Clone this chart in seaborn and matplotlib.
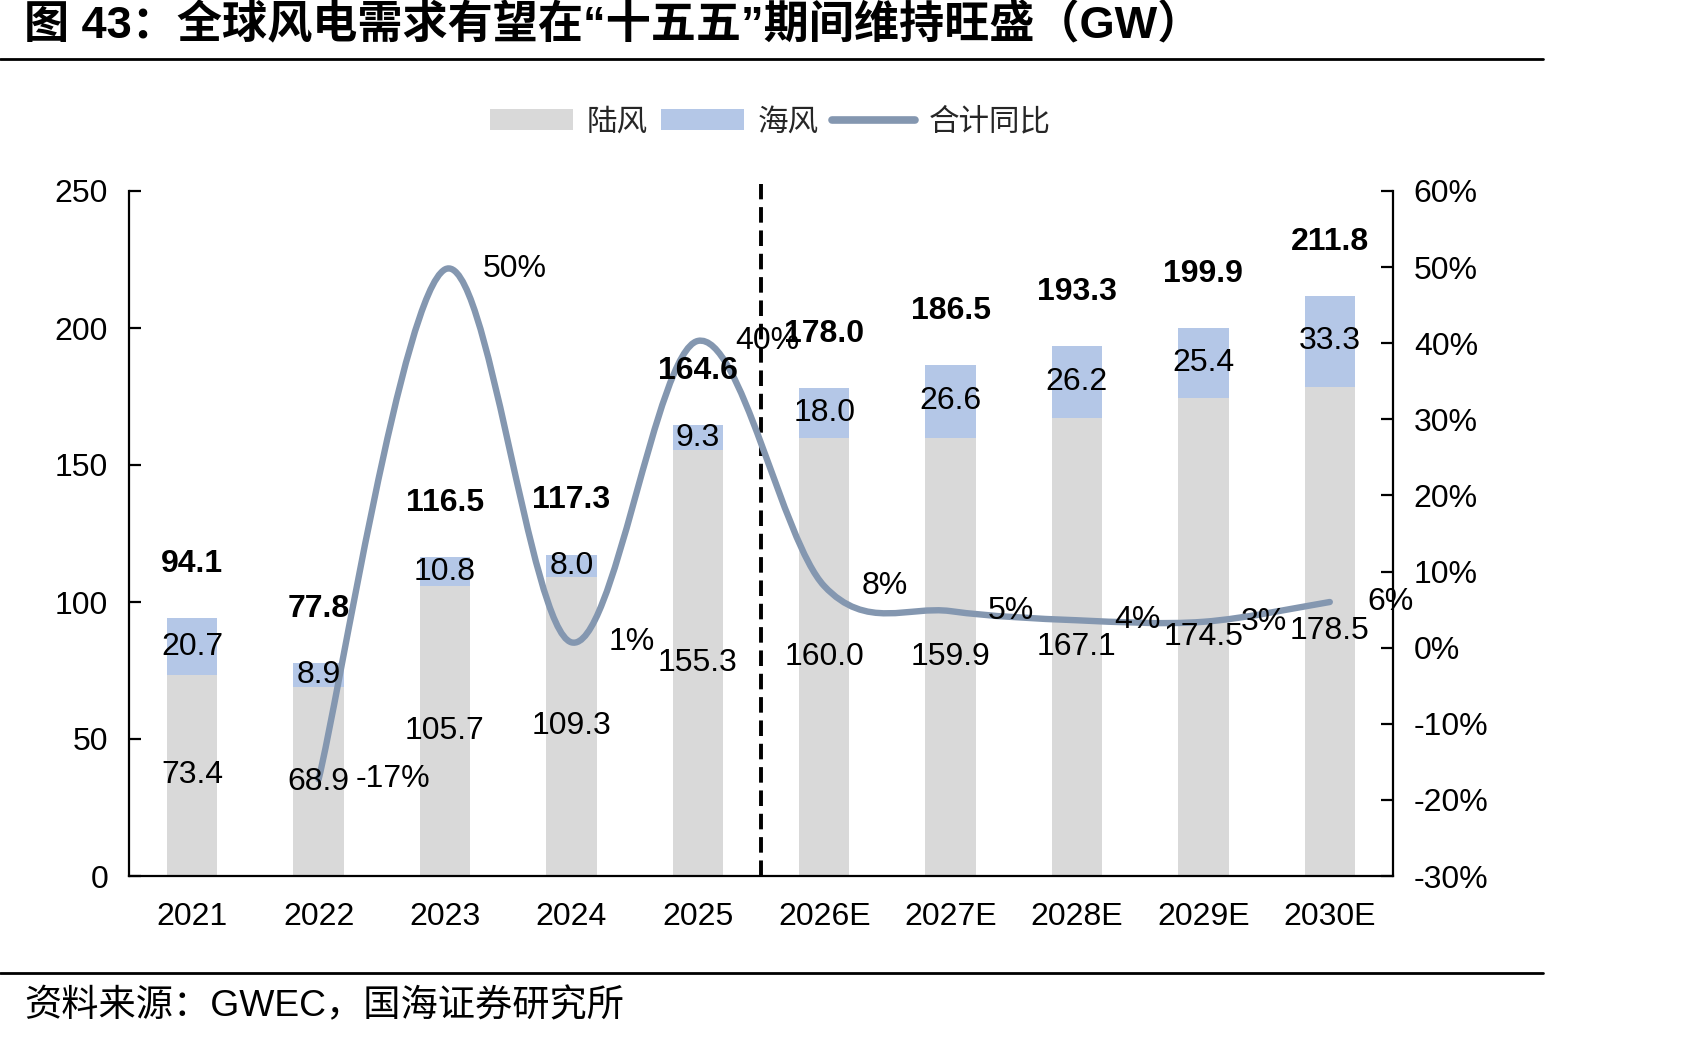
import numpy as np
import pandas as pd
import matplotlib
matplotlib.use("Agg")
import matplotlib.pyplot as plt
import seaborn as sns
from matplotlib.path import Path
from matplotlib.patches import PathPatch, Patch
from matplotlib.lines import Line2D

# ---------------- data ----------------
years = ["2021", "2022", "2023", "2024", "2025", "2026E", "2027E", "2028E", "2029E", "2030E"]
onshore = [73.4, 68.9, 105.7, 109.3, 155.3, 160.0, 159.9, 167.1, 174.5, 178.5]
offshore = [20.7, 8.9, 10.8, 8.0, 9.3, 18.0, 26.6, 26.2, 25.4, 33.3]
total = [94.1, 77.8, 116.5, 117.3, 164.6, 178.0, 186.5, 193.3, 199.9, 211.8]
yoy = [None, -17.3, 49.7, 0.7, 40.3, 8.1, 4.8, 3.6, 3.4, 6.0]
yoy_labels = ["", "-17%", "50%", "1%", "40%", "8%", "5%", "4%", "3%", "6%"]
left_ticks = [0, 50, 100, 150, 200, 250]
right_ticks = [-30, -20, -10, 0, 10, 20, 30, 40, 50, 60]
legend_labels = ["陆风", "海风", "合计同比"]
title = "图 43：全球风电需求有望在“十五五”期间维持旺盛（GW）"
source = "资料来源：GWEC，国海证券研究所"

GRAY = "#D9D9D9"
BLUE = "#B4C7E7"
LINE = "#8497B0"

sns.set_theme(style="white")
plt.rcParams["font.family"] = ["Liberation Sans", "Noto Sans CJK SC"]

fig = plt.figure(figsize=(16.89, 10.39), dpi=100)
ax = fig.add_axes([129 / 1689, 1 - 876 / 1039, (1393 - 129) / 1689, (876 - 191) / 1039])

df = pd.DataFrame({"year": years, "onshore": onshore, "offshore": offshore, "total": total})
df["stack"] = df["onshore"] + df["offshore"]

sns.barplot(data=df, x="year", y="stack", order=years, color=BLUE, width=0.4,
            saturation=1, linewidth=0, ax=ax, zorder=1)
sns.barplot(data=df, x="year", y="onshore", order=years, color=GRAY, width=0.4,
            saturation=1, linewidth=0, ax=ax, zorder=2)

ax.set_xlim(-0.5, len(years) - 0.5)
ax.set_ylim(0, 250)
ax.set_yticks(left_ticks)
ax.set_yticklabels([str(t) for t in left_ticks])
ax.set_xlabel("")
ax.set_ylabel("")
ax.set_xticks(range(len(years)))
ax.set_xticklabels(years)
ax.set_xticks(np.arange(0.5, len(years) - 1, 1.0), minor=True)
ax.tick_params(axis="x", which="major", length=0, pad=19, labelsize=23, colors="black")
ax.tick_params(axis="x", which="minor", direction="in", length=8.6, width=1.6, color="black")
ax.tick_params(axis="y", direction="in", length=8.6, width=1.6, pad=15, labelsize=23,
               colors="black", left=True)
for s in ["top", "right"]:
    ax.spines[s].set_visible(False)
for s in ["left", "bottom"]:
    ax.spines[s].set_color("black")
    ax.spines[s].set_linewidth(1.6)

# dashed separator between actual and forecast
ax.axvline(4.5, ymin=0, ymax=1.01, color="black", lw=2.8, ls=(0, (4.0, 2.0)),
           clip_on=False, zorder=4)

# right axis with YoY line
ax2 = ax.twinx()
ax2.set_ylim(-30, 60)
ax2.set_yticks(right_ticks)
ax2.set_yticklabels([f"{t}%" for t in right_ticks])
ax2.tick_params(axis="y", direction="in", length=8.6, width=1.6, pad=15, labelsize=23,
                colors="black", right=True)
ax2.grid(False)
ax.grid(False)
for s in ["top", "left", "bottom"]:
    ax2.spines[s].set_visible(False)
ax2.spines["right"].set_color("black")
ax2.spines["right"].set_linewidth(1.6)

# smoothed line (Bezier through the data points, Excel-style smoothing)
xs = [i for i, v in enumerate(yoy) if v is not None]
ys = [v for v in yoy if v is not None]
pts = np.column_stack([xs, ys]).astype(float)
n = len(pts)
verts = [pts[0]]
codes = [Path.MOVETO]
for i in range(n - 1):
    p0 = pts[i - 1] if i > 0 else pts[i]
    p1 = pts[i]
    p2 = pts[i + 1]
    p3 = pts[i + 2] if i + 2 < n else pts[i + 1]
    c1 = p1 + (p2 - p0) / 6.0
    c2 = p2 - (p3 - p1) / 6.0
    verts += [c1, c2, p2]
    codes += [Path.CURVE4] * 3
ax2.add_patch(PathPatch(Path(verts, codes), fill=False, edgecolor=LINE, lw=4.6,
                        capstyle="round", joinstyle="round", zorder=3))

# labels
for i in range(len(years)):
    ax2.annotate(f"{onshore[i]:.1f}", xy=(i, onshore[i] / 2), xycoords=ax.transData,
                 ha="center", va="center", fontsize=23, color="black", zorder=6)
    ax2.annotate(f"{offshore[i]:.1f}", xy=(i, onshore[i] + offshore[i] / 2),
                 xycoords=ax.transData, ha="center", va="center", fontsize=23,
                 color="black", zorder=6)
    ax2.annotate(f"{total[i]:.1f}", xy=(i, total[i]), xycoords=ax.transData,
                 xytext=(0, 39), textcoords="offset points", ha="center", va="center",
                 fontsize=23, fontweight="bold", color="black", zorder=6)
    if yoy[i] is not None:
        ax2.annotate(yoy_labels[i], xy=(i, yoy[i]), xycoords=ax2.transData,
                     xytext=(27, 0), textcoords="offset points", ha="left", va="center",
                     fontsize=23, color="black", zorder=6)

# legend
handles = [Patch(facecolor=GRAY, edgecolor="none"),
           Patch(facecolor=BLUE, edgecolor="none"),
           Line2D([0], [0], color=LINE, lw=5.5, solid_capstyle="round")]
fig.legend(handles, legend_labels, loc="center", bbox_to_anchor=(0.456, 0.8826), ncol=3,
           frameon=False, prop={"family": ["Noto Sans CJK SC"], "size": 22},
           handlelength=2.7, handleheight=0.7, handletextpad=0.45, columnspacing=0.45)

# title, rules and source
fig.text(24 / 1689, 1 - 26 / 1039, title, ha="left", va="center", fontsize=32.5,
         fontweight="bold", color="black")
fig.add_artist(Line2D([0, 1543 / 1689], [1 - 59 / 1039, 1 - 59 / 1039],
                      transform=fig.transFigure, color="black", lw=2))
fig.add_artist(Line2D([0, 1543 / 1689], [1 - 973 / 1039, 1 - 973 / 1039],
                      transform=fig.transFigure, color="black", lw=2))
fig.text(24 / 1689, 1 - 1007 / 1039, source, ha="left", va="center", fontsize=26.8,
         color="black")

fig.savefig("out.png", dpi=100)
